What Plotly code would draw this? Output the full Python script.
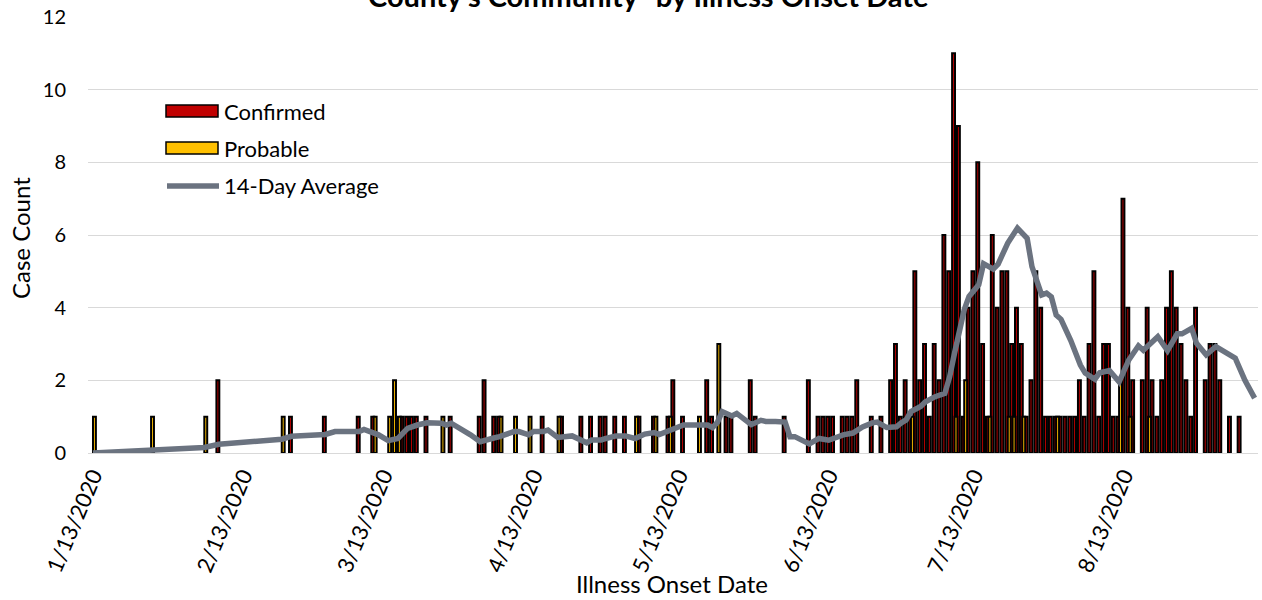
import pandas as pd
import plotly.graph_objects as go

START = "2020-01-13"

# ---- data (day offsets from 1/13/2020) ----
confirmed_days = [26, 41, 48, 55, 58, 64, 65, 66, 67, 69, 74, 80, 81, 83, 84, 93, 97,
                  101, 103, 105, 106, 108, 110, 113, 116, 119, 120, 122, 127, 128, 131,
                  132, 136, 137, 143, 148, 150, 151, 152, 153, 155, 156, 157, 158, 161,
                  163, 165, 166, 167, 168, 169, 170, 171, 172, 173, 174, 175, 176, 177,
                  178, 179, 180, 181, 182, 183, 184, 185, 186, 187, 188, 189, 190, 191,
                  192, 193, 194, 195, 196, 197, 198, 199, 200, 201, 202, 203, 204, 205,
                  206, 207, 208, 209, 210, 211, 212, 213, 214, 215, 217, 218, 219, 220,
                  221, 222, 223, 224, 225, 226, 227, 228, 230, 231, 232, 233, 235, 237]
confirmed_counts = [2, 1, 1, 1, 1, 1, 1, 1, 1, 1, 1, 1, 2, 1, 1, 1, 1,
                    1, 1, 1, 1, 1, 1, 1, 1, 1, 2, 1, 2, 1, 1,
                    1, 2, 1, 1, 2, 1, 1, 1, 1, 1, 1, 1, 2, 1,
                    1, 2, 3, 1, 2, 1, 5, 2, 3, 1, 3, 2, 6, 5,
                    11, 9, 1, 4, 5, 8, 3, 1, 6, 4, 5, 5, 3, 4,
                    3, 1, 2, 5, 4, 1, 1, 1, 1, 1, 1, 1, 2, 1,
                    3, 5, 1, 3, 3, 1, 1, 7, 4, 2, 2, 4, 2, 1,
                    2, 4, 5, 4, 3, 2, 1, 4, 2, 3, 3, 2, 1, 1]

probable_days = [0, 12, 23, 39, 58, 61, 62, 63, 72, 84, 87, 90, 96, 112, 116, 119,
                 125, 129, 169, 178, 180, 185, 189, 190, 192, 199, 212, 214, 218]
probable_counts = [1, 1, 1, 1, 1, 1, 2, 1, 1, 1, 1, 1, 1, 1, 1, 1,
                   1, 3, 1, 1, 2, 1, 1, 1, 1, 1, 2, 1, 1]

avg_days = [0, 12, 23, 26, 39, 41, 48, 50, 55, 56, 58, 59, 61, 63, 64, 65, 67, 69,
            72, 73, 74, 76, 78, 80, 81, 83, 84, 87, 88, 90, 91, 93, 94, 96, 99, 101,
            102, 103, 105, 106, 108, 110, 112, 114, 116, 117, 119, 120, 122, 125, 127,
            128, 129, 130, 132, 133, 136, 138, 139, 141, 143, 144, 145, 148, 150, 152,
            155, 157, 159, 161, 162, 164, 166, 167, 168, 169, 171, 172, 174, 176, 177,
            178, 179, 180, 181, 183, 184, 186, 187, 189, 191, 193, 194, 196, 197, 198,
            199, 200, 202, 203, 204, 205, 207, 208, 210, 212, 214, 216, 217, 220, 222,
            224, 225, 227, 228, 230, 232, 236, 238, 240]
avg_values = [0.0, 0.08, 0.15, 0.24, 0.38, 0.46, 0.51, 0.59, 0.59, 0.65, 0.57, 0.50,
              0.34, 0.40, 0.54, 0.68, 0.77, 0.83, 0.82, 0.77, 0.82, 0.68, 0.50, 0.31,
              0.36, 0.42, 0.45, 0.59, 0.59, 0.50, 0.59, 0.59, 0.63, 0.43, 0.47, 0.33,
              0.28, 0.36, 0.36, 0.40, 0.47, 0.47, 0.40, 0.52, 0.56, 0.51, 0.63, 0.68,
              0.77, 0.77, 0.77, 0.70, 0.84, 1.14, 1.02, 1.09, 0.78, 0.90, 0.87, 0.87,
              0.85, 0.45, 0.45, 0.25, 0.40, 0.35, 0.50, 0.55, 0.72, 0.83, 0.85, 0.70,
              0.72, 0.83, 0.91, 1.14, 1.28, 1.41, 1.55, 1.64, 2.10, 2.75, 3.39, 3.94,
              4.31, 4.63, 5.21, 5.06, 5.20, 5.78, 6.19, 5.91, 5.13, 4.35, 4.40, 4.30,
              3.80, 3.68, 3.10, 2.75, 2.42, 2.20, 2.03, 2.21, 2.27, 1.96, 2.56, 2.95,
              2.83, 3.20, 2.82, 3.28, 3.28, 3.43, 3.02, 2.70, 2.93, 2.61, 2.00, 1.51]

tick_days = [0, 31, 60, 91, 121, 152, 182, 213]
tick_labels = ["1/13/2020", "2/13/2020", "3/13/2020", "4/13/2020",
               "5/13/2020", "6/13/2020", "7/13/2020", "8/13/2020"]

series_names = ["Confirmed", "Probable", "14-Day Average"]
title_text = "County's Community- by Illness Onset Date"


def to_dates(days):
    return pd.Timestamp(START) + pd.to_timedelta(days, unit="D")


FONT = "Lato"
RED = "#C00000"
GOLD = "#FFC000"
GREY = "#6B7380"
DAY_MS = 86400000.0

# bar geometry (fractions of a day): two overlapping columns per day
BAR_W = 0.6
C_CENTER = -0.2
P_CENTER = 0.3

fig = go.Figure()
fig.add_trace(go.Bar(x=to_dates(confirmed_days), y=confirmed_counts, name=series_names[0],
                     width=BAR_W * DAY_MS, offset=(C_CENTER - BAR_W / 2) * DAY_MS,
                     marker=dict(color=RED, line=dict(color="black", width=2.0)),
                     showlegend=False))
fig.add_trace(go.Bar(x=to_dates(probable_days), y=probable_counts, name=series_names[1],
                     width=BAR_W * DAY_MS, offset=(P_CENTER - BAR_W / 2) * DAY_MS,
                     marker=dict(color=GOLD, line=dict(color="black", width=2.0)),
                     showlegend=False))
fig.add_trace(go.Scatter(x=to_dates(avg_days), y=avg_values, name=series_names[2],
                         mode="lines", line=dict(color=GREY, width=5.5),
                         showlegend=False))

W, H = 1262, 600
L, R, T, B = 88, 4, 17, 147
pw, ph = W - L - R, H - T - B


def px(x):
    return (x - L) / pw


def py(y):
    return (H - B - y) / ph


x0 = pd.Timestamp(START) - pd.Timedelta(days=1.03)
x1 = pd.Timestamp(START) + pd.Timedelta(days=240.7)

fig.update_layout(
    width=W, height=H,
    margin=dict(l=L, r=R, t=T, b=B),
    paper_bgcolor="white", plot_bgcolor="white",
    barmode="overlay",
    font=dict(family=FONT, size=17, color="black"),
    xaxis=dict(type="date", range=[x0, x1], tickvals=to_dates(tick_days),
               ticktext=tick_labels, tickangle=-67, showgrid=False, showline=True,
               linecolor="#d9d9d9", linewidth=1, ticks="", zeroline=False,
               tickfont=dict(family=FONT, size=22, color="black")),
    yaxis=dict(range=[0, 12], dtick=2, showgrid=True, gridcolor="#d9d9d9", gridwidth=1,
               zeroline=False, showline=False, ticks="", ticklabelstandoff=21,
               tickfont=dict(family=FONT, size=20, color="black")),
)

# title (cut at the top edge, as in the reference)
fig.add_annotation(text="<b>" + title_text + "</b>", xref="paper", yref="paper",
                   x=px(648), y=py(-4), xanchor="center", yanchor="middle",
                   showarrow=False, font=dict(family=FONT, size=29, color="black"))

# axis titles
fig.add_annotation(text="Illness Onset Date", xref="paper", yref="paper",
                   x=px(672), y=py(583), xanchor="center", yanchor="middle",
                   showarrow=False, font=dict(family=FONT, size=24, color="black"))
fig.add_annotation(text="Case Count", xref="paper", yref="paper",
                   x=px(20), y=py(238), xanchor="center", yanchor="middle",
                   textangle=-90, showarrow=False,
                   font=dict(family=FONT, size=24, color="black"))

# legend (drawn as shapes + labels)
legend_rows = [111, 148, 186]
for i, (name, yc) in enumerate(zip(series_names, legend_rows)):
    if i < 2:
        fig.add_shape(type="rect", xref="paper", yref="paper",
                      x0=px(166), x1=px(218), y0=py(yc - 6), y1=py(yc + 6),
                      fillcolor=[RED, GOLD][i], line=dict(color="black", width=1.5))
    else:
        fig.add_shape(type="line", xref="paper", yref="paper",
                      x0=px(167), x1=px(219), y0=py(yc), y1=py(yc),
                      line=dict(color=GREY, width=5.5))
    fig.add_annotation(text=name, xref="paper", yref="paper", x=px(222), y=py(yc),
                       xanchor="left", yanchor="middle", showarrow=False,
                       font=dict(family=FONT, size=22, color="black"))

fig.write_html("out.html", config={"displayModeBar": False},
               post_script="document.body.style.margin='0';")
